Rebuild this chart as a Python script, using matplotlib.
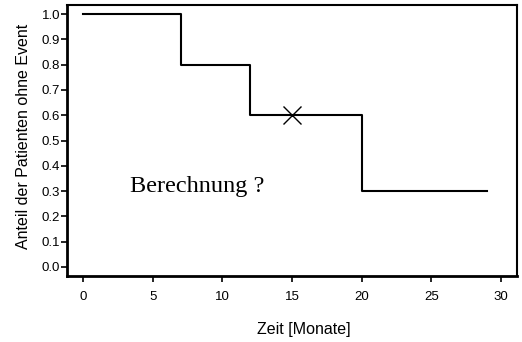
import matplotlib
matplotlib.use("Agg")
import matplotlib.pyplot as plt

# Kaplan-Meier survival step curve
times = [0, 7, 12, 20, 29]
survival = [1.0, 0.8, 0.6, 0.3, 0.3]
query_time = 15
query_value = 0.6
x_ticks = [0, 5, 10, 15, 20, 25, 30]
y_ticks = [0.0, 0.1, 0.2, 0.3, 0.4, 0.5, 0.6, 0.7, 0.8, 0.9, 1.0]

fig = plt.figure(figsize=(5.22, 3.42), dpi=100)
ax = fig.add_axes([67 / 522, 1 - 276 / 342, 450 / 522, 271 / 342])

ax.step(times, survival, where="post", color="black", lw=1.5)
ax.plot([query_time], [query_value], marker="x", color="black",
        markersize=13, markeredgewidth=1.0, linestyle="none")
ax.text(3.4, 0.32, "Berechnung ?", family="Liberation Serif",
        fontsize=17.5, va="center", ha="left")

ax.set_xlim(-1.15, 31.15)
ax.set_ylim(-0.036, 1.036)
ax.set_xticks(x_ticks)
ax.set_xticklabels([str(t) for t in x_ticks])
ax.set_yticks(y_ticks)
ax.set_yticklabels([f"{t:.1f}" for t in y_ticks])

for lab in ax.get_xticklabels() + ax.get_yticklabels():
    lab.set_family("Liberation Sans")
    lab.set_fontsize(9.5)
ax.tick_params(direction="out", length=4, width=1.2, color="black")
ax.tick_params(axis="x", pad=7)
ax.tick_params(axis="y", pad=1)

ax.set_xlabel("Zeit [Monate]", family="Liberation Sans", fontsize=11.5)
ax.xaxis.set_label_coords(0.527, -0.17)
ax.set_ylabel("Anteil der Patienten ohne Event", family="Liberation Sans",
              fontsize=11.5, labelpad=7.5)
ax.yaxis.label.set_y(0.517)

ax.spines["left"].set_linewidth(2.0)
ax.spines["bottom"].set_linewidth(2.0)
ax.spines["top"].set_linewidth(1.5)
ax.spines["right"].set_linewidth(1.5)

fig.savefig("out.png", dpi=100)
